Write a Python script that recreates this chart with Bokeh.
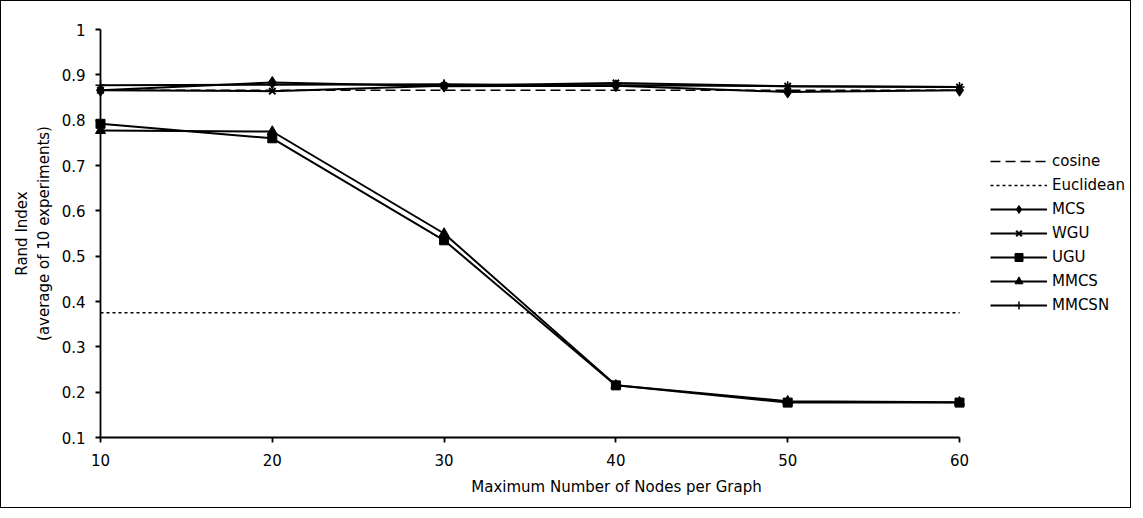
from bokeh.plotting import figure
from bokeh.models import Legend, LegendItem, FixedTicker, NumeralTickFormatter, Range1d
from bokeh.embed import file_html
from bokeh.resources import INLINE

nodes = [10, 20, 30, 40, 50, 60]
cosine = [0.866, 0.866, 0.866, 0.866, 0.866, 0.866]
euclidean = [0.375, 0.375, 0.375, 0.375, 0.375, 0.375]
mcs = [0.866, 0.883, 0.875, 0.876, 0.862, 0.866]
wgu = [0.866, 0.864, 0.876, 0.882, 0.875, 0.873]
ugu = [0.792, 0.760, 0.535, 0.215, 0.177, 0.177]
mmcs = [0.777, 0.775, 0.550, 0.215, 0.180, 0.178]
mmcsn = [0.877, 0.878, 0.879, 0.877, 0.875, 0.873]
y_ticks = [0.1, 0.2, 0.3, 0.4, 0.5, 0.6, 0.7, 0.8, 0.9, 1.0]
x_ticks = [10, 20, 30, 40, 50, 60]

FONT = "DejaVu Sans"
W, H = 1131, 508
ML, MR, MT, MB = 99, 0, 28, 72
PLOT_W = 859  # pixel width of the 10..60 axis

frame_w = W - ML - MR
frame_h = H - MT - MB
x_lo, x_hi = x_ticks[0], x_ticks[-1]
x_end = x_lo + (x_hi - x_lo) * frame_w / PLOT_W

p = figure(width=W, height=H, output_backend="svg", toolbar_location=None,
           x_range=Range1d(x_lo, x_end), y_range=Range1d(y_ticks[0], y_ticks[-1]),
           min_border_left=ML, min_border_right=MR, min_border_top=MT, min_border_bottom=MB)
p.styles = {"border": "1px solid black"}
p.outline_line_color = None
p.xgrid.visible = False
p.ygrid.visible = False

p.xaxis.ticker = FixedTicker(ticks=x_ticks)
p.xaxis.bounds = (x_lo, x_hi)
p.yaxis.ticker = FixedTicker(ticks=y_ticks)
p.yaxis.formatter = NumeralTickFormatter(format="0.[0]")
for ax in (p.xaxis[0], p.yaxis[0]):
    ax.axis_line_color = "black"
    ax.axis_line_width = 1.8
    ax.major_tick_line_color = "black"
    ax.major_tick_line_width = 1.8
    ax.major_tick_in = 0
    ax.major_tick_out = 5
    ax.minor_tick_line_color = None
    ax.major_label_text_font = FONT
    ax.major_label_text_font_size = "15px"
    ax.major_label_text_color = "black"
    ax.axis_label_text_font = FONT
    ax.axis_label_text_font_size = "15px"
    ax.axis_label_text_font_style = "normal"
    ax.axis_label_text_color = "black"
p.xaxis.major_label_standoff = 11
p.yaxis.major_label_standoff = 10
p.xaxis.axis_label = "Maximum Number of Nodes per Graph"
p.xaxis.axis_label_standoff = 9
p.yaxis.axis_label = "Rand Index\n(average of 10 experiments)"
p.yaxis.axis_label_standoff = 6

items = []
r = p.line(nodes, cosine, line_color="black", line_width=1.5, line_dash="10 5")
items.append(LegendItem(label="cosine", renderers=[r]))
r = p.line(nodes, euclidean, line_color="black", line_width=1.5, line_dash="3 3")
items.append(LegendItem(label="Euclidean", renderers=[r]))

series = [("MCS", mcs, "diamond", 12, 1), ("WGU", wgu, "x", 9, 2), ("UGU", ugu, "square", 9, 1),
          ("MMCS", mmcs, "triangle", 10, 1), ("MMCSN", mmcsn, "cross", 10, 1.5)]
for name, vals, marker, size, lw in series:
    l = p.line(nodes, vals, line_color="black", line_width=2)
    s = p.scatter(nodes, vals, marker=marker, size=size, fill_color="black",
                  line_color="black", line_width=lw, level="overlay")
    items.append(LegendItem(label=name, renderers=[l, s]))

leg_h = 7 * 24 - 4
legend = Legend(items=items, location=(PLOT_W + 31, (frame_h - leg_h) // 2),
                glyph_width=57, glyph_height=20,
                spacing=4, label_standoff=5, padding=0, margin=0,
                border_line_color=None, background_fill_alpha=0,
                label_text_font=FONT, label_text_font_size="15px", label_text_color="black")
p.add_layout(legend)

open("out.html", "w").write(file_html(p, INLINE))
